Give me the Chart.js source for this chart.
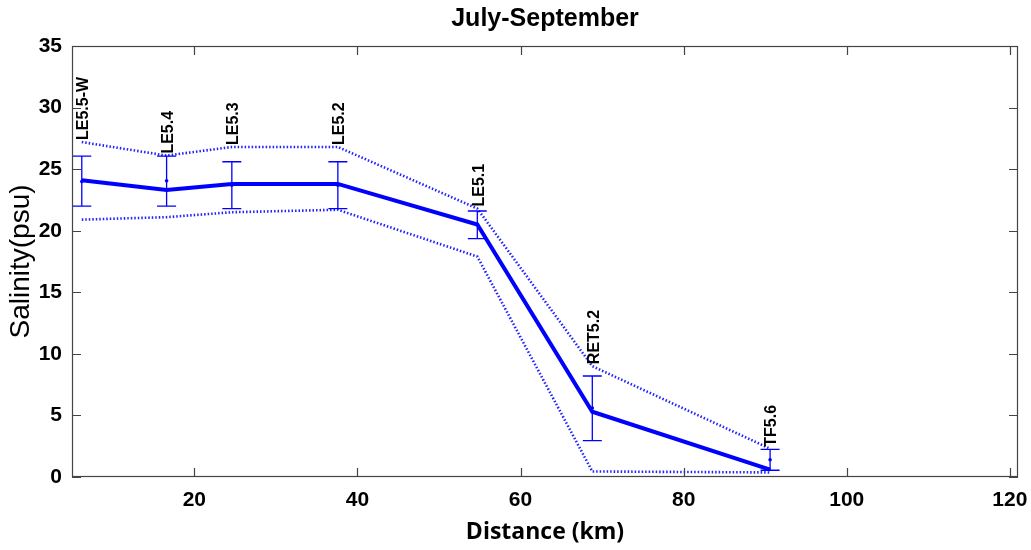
<!DOCTYPE html>
<html>
<head>
<meta charset="utf-8">
<script src="https://cdn.jsdelivr.net/npm/chart.js@4/dist/chart.umd.min.js"></script>
<style>
  html, body { margin: 0; padding: 0; background: #fff; }
  canvas { display: block; }
</style>
</head>
<body>
<canvas id="salinityChart" width="1031" height="550"></canvas>
<script>
// stations along the transect, July-September
const stations = ['LE5.5-W', 'LE5.4', 'LE5.3', 'LE5.2', 'LE5.1', 'RET5.2', 'TF5.6'];
const distanceKm = [6.2, 16.6, 24.6, 37.6, 54.7, 68.8, 90.6];
const salMean = [24.1, 23.3, 23.8, 23.8, 20.5, 5.3, 0.6];
const salUpper = [27.2, 26.1, 26.8, 26.8, 21.8, 9.0, 2.3];
const salLower = [20.9, 21.1, 21.5, 21.7, 17.9, 0.45, 0.37];
// error bars: centre dot, low and high ends
const errCenter = [24.0, 24.05, 23.7, 23.7, 20.5, 5.6, 1.4];
const errLow = [22.0, 22.0, 21.8, 21.8, 19.35, 2.95, 0.55];
const errHigh = [26.05, 26.05, 25.6, 25.6, 21.6, 8.2, 2.25];

const xTicks = [20, 40, 60, 80, 100, 120];
const yTicks = [0, 5, 10, 15, 20, 25, 30, 35];

const BLUE = '#0000ff';
const pts = ys => distanceKm.map((d, i) => ({ x: d, y: ys[i] }));

const decor = {
  id: 'decor',
  afterDatasetsDraw(chart) {
    const { ctx, scales: { x, y } } = chart;
    ctx.save();
    // error bars with caps
    ctx.strokeStyle = BLUE;
    ctx.lineWidth = 1.3;
    distanceKm.forEach((d, i) => {
      const px = x.getPixelForValue(d);
      const top = y.getPixelForValue(errHigh[i]);
      const bot = y.getPixelForValue(errLow[i]);
      ctx.beginPath();
      ctx.moveTo(px, top); ctx.lineTo(px, bot);
      ctx.moveTo(px - 9.5, top); ctx.lineTo(px + 9.5, top);
      ctx.moveTo(px - 9.5, bot); ctx.lineTo(px + 9.5, bot);
      ctx.stroke();
    });
    // station names, vertical, sitting on the upper bound
    ctx.fillStyle = '#000';
    ctx.font = 'bold 16px "Liberation Sans", Arial, sans-serif';
    ctx.textAlign = 'left';
    ctx.textBaseline = 'middle';
    stations.forEach((name, i) => {
      ctx.save();
      ctx.translate(x.getPixelForValue(distanceKm[i]) + 2, y.getPixelForValue(salUpper[i]) - 2);
      ctx.rotate(-Math.PI / 2);
      ctx.fillText(name, 0, 0);
      ctx.restore();
    });
    ctx.restore();
  },
  afterDraw(chart) {
    const { ctx, chartArea: a, scales: { x, y } } = chart;
    ctx.save();
    ctx.strokeStyle = '#444';
    ctx.lineWidth = 1.2;
    ctx.strokeRect(a.left + 0.5, a.top + 0.5, a.right - a.left - 1, a.bottom - a.top - 1);
    // inward tick marks on all four sides
    const len = 9;
    ctx.beginPath();
    x.ticks.forEach(t => {
      const px = Math.round(x.getPixelForValue(t.value)) + 0.5;
      ctx.moveTo(px, a.bottom); ctx.lineTo(px, a.bottom - len);
      ctx.moveTo(px, a.top); ctx.lineTo(px, a.top + len);
    });
    y.ticks.forEach(t => {
      const py = Math.round(y.getPixelForValue(t.value)) + 0.5;
      ctx.moveTo(a.left, py); ctx.lineTo(a.left + len, py);
      ctx.moveTo(a.right, py); ctx.lineTo(a.right - len, py);
    });
    ctx.stroke();
    // title centred over the plot area
    ctx.fillStyle = '#000';
    ctx.font = 'bold 25px "Liberation Sans", Arial, sans-serif';
    ctx.textAlign = 'center';
    ctx.textBaseline = 'middle';
    ctx.fillText('July-September', (a.left + a.right) / 2, 19);
    ctx.restore();
  }
};

new Chart(document.getElementById('salinityChart'), {
  type: 'line',
  data: {
    datasets: [
      {
        label: 'Mean',
        data: pts(salMean),
        borderColor: BLUE,
        borderWidth: 4,
        pointRadius: 0,
        tension: 0
      },
      {
        label: 'Upper',
        data: pts(salUpper),
        borderColor: 'rgba(10,10,255,0.9)',
        borderWidth: 2.6,
        borderDash: [1.5, 2],
        pointRadius: 0,
        tension: 0
      },
      {
        label: 'Lower',
        data: pts(salLower),
        borderColor: 'rgba(10,10,255,0.9)',
        borderWidth: 2.6,
        borderDash: [1.5, 2],
        pointRadius: 0,
        tension: 0
      },
      {
        label: 'Centre',
        data: pts(errCenter),
        showLine: false,
        pointRadius: 1.8,
        pointBackgroundColor: BLUE,
        pointBorderWidth: 0
      }
    ]
  },
  options: {
    responsive: false,
    animation: false,
    devicePixelRatio: 1,
    layout: { padding: { top: 46, right: 13, left: 0, bottom: 0 } },
    plugins: {
      legend: { display: false },
      tooltip: { enabled: false },
      title: { display: false }
    },
    scales: {
      x: {
        type: 'linear',
        min: 5,
        max: 121,
        afterBuildTicks: s => { s.ticks = xTicks.map(v => ({ value: v })); },
        afterFit: s => { s.height = 73; },
        grid: { display: false },
        border: { display: false },
        ticks: {
          color: '#000',
          padding: 3,
          maxRotation: 0,
          font: { family: '"Liberation Sans", Arial, sans-serif', size: 21, weight: 'bold' }
        },
        title: {
          display: true,
          text: 'Distance (km)',
          color: '#000',
          padding: { top: 0, bottom: 4 },
          font: { family: '"Open Sans", sans-serif', size: 23, weight: 'bold' }
        }
      },
      y: {
        type: 'linear',
        min: 0,
        max: 35,
        afterBuildTicks: s => { s.ticks = yTicks.map(v => ({ value: v })); },
        afterFit: s => { s.width = 72; },
        grid: { display: false },
        border: { display: false },
        ticks: {
          color: '#000',
          padding: 2,
          font: { family: '"Liberation Sans", Arial, sans-serif', size: 21, weight: 'bold' }
        },
        title: {
          display: true,
          text: 'Salinity(psu)',
          color: '#000',
          padding: { top: 4, bottom: 0 },
          font: { family: '"Liberation Sans", Arial, sans-serif', size: 28 }
        }
      }
    }
  },
  plugins: [decor]
});
</script>
</body>
</html>
